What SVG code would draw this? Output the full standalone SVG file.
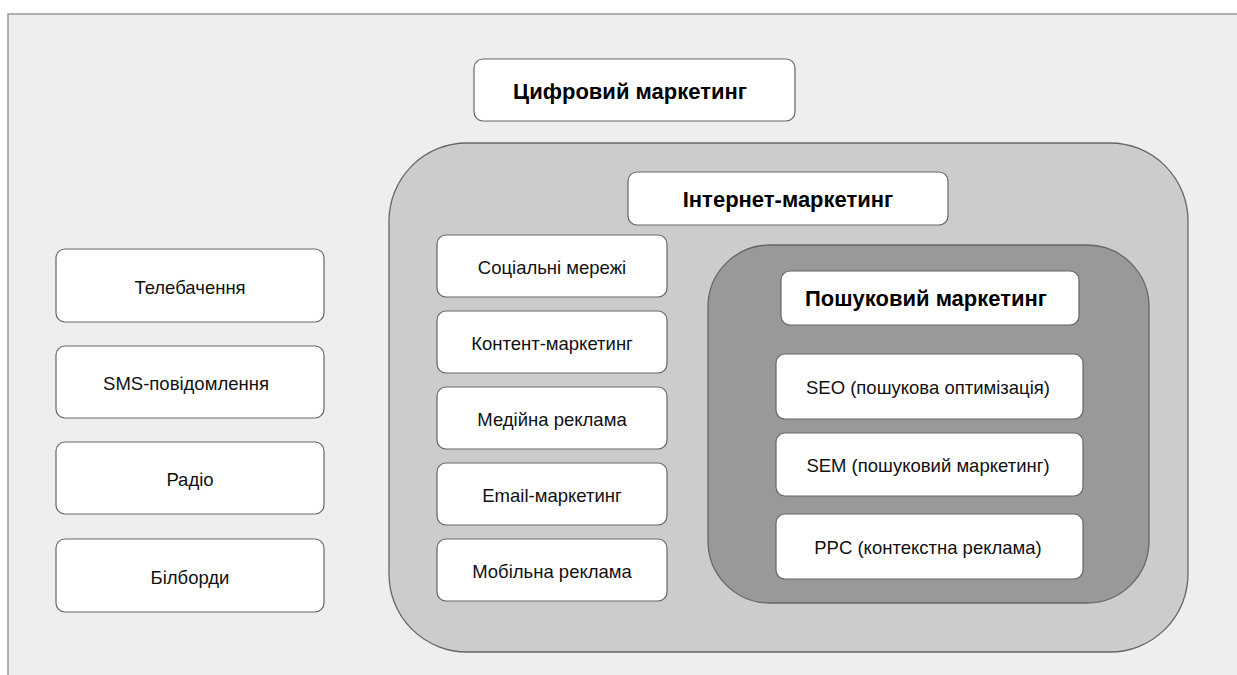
<svg xmlns="http://www.w3.org/2000/svg" width="1237" height="675" viewBox="0 0 1237 675">
<style>
.box{fill:#ffffff;stroke:#666666;stroke-width:1.2}
.t{font-family:"Liberation Sans",Arial,sans-serif;font-size:18.5px;fill:#111111;text-anchor:middle;dominant-baseline:central}
.b{font-weight:bold;fill:#000000;font-size:22px}
</style>
<rect x="0" y="0" width="1237" height="675" fill="#ffffff"/>
<rect id="frame" x="8" y="14" width="1240" height="670" fill="#eeeeee" stroke="#999999" stroke-width="1.5"/>
<g id="digital"><rect class="box" x="474" y="59" width="321" height="62" rx="9"/><text class="t b" x="630" y="91">Цифровий маркетинг</text></g>
<g id="internet">
<rect x="389" y="143" width="799" height="509" rx="78" fill="#cccccc" stroke="#666666" stroke-width="1.3"/>
<rect class="box" x="628" y="172" width="320" height="53" rx="9"/><text class="t b" x="788" y="199">Інтернет-маркетинг</text>
</g>
<g id="social"><rect class="box" x="437" y="235" width="230" height="62" rx="9"/><text class="t" x="552" y="267">Соціальні мережі</text></g>
<g id="content"><rect class="box" x="437" y="311" width="230" height="62" rx="9"/><text class="t" x="552" y="343">Контент-маркетинг</text></g>
<g id="media"><rect class="box" x="437" y="387" width="230" height="62" rx="9"/><text class="t" x="552" y="419">Медійна реклама</text></g>
<g id="email"><rect class="box" x="437" y="463" width="230" height="62" rx="9"/><text class="t" x="552" y="495">Email-маркетинг</text></g>
<g id="mobile"><rect class="box" x="437" y="539" width="230" height="62" rx="9"/><text class="t" x="552" y="571">Мобільна реклама</text></g>
<g id="search">
<rect x="708" y="245" width="441" height="358" rx="62" fill="#999999" stroke="#666666" stroke-width="1.3"/>
<rect class="box" x="781" y="271" width="298" height="54" rx="9"/><text class="t b" x="926" y="298">Пошуковий маркетинг</text>
</g>
<g id="seo"><rect class="box" x="776" y="354" width="307" height="65" rx="9"/><text class="t" x="928" y="387">SEO (пошукова оптимізація)</text></g>
<g id="sem"><rect class="box" x="776" y="433" width="307" height="63" rx="9"/><text class="t" x="928" y="465">SEM (пошуковий маркетинг)</text></g>
<g id="ppc"><rect class="box" x="776" y="514" width="307" height="65" rx="9"/><text class="t" x="928" y="547">PPC (контекстна реклама)</text></g>
<g id="tv"><rect class="box" x="56" y="249" width="268" height="73" rx="9"/><text class="t" x="190" y="287">Телебачення</text></g>
<g id="sms"><rect class="box" x="56" y="346" width="268" height="72" rx="9"/><text class="t" x="186" y="383">SMS-повідомлення</text></g>
<g id="radio"><rect class="box" x="56" y="442" width="268" height="72" rx="9"/><text class="t" x="190" y="479">Радіо</text></g>
<g id="billboards"><rect class="box" x="56" y="539" width="268" height="73" rx="9"/><text class="t" x="190" y="577">Білборди</text></g>
<g id="connectors"></g>
</svg>
